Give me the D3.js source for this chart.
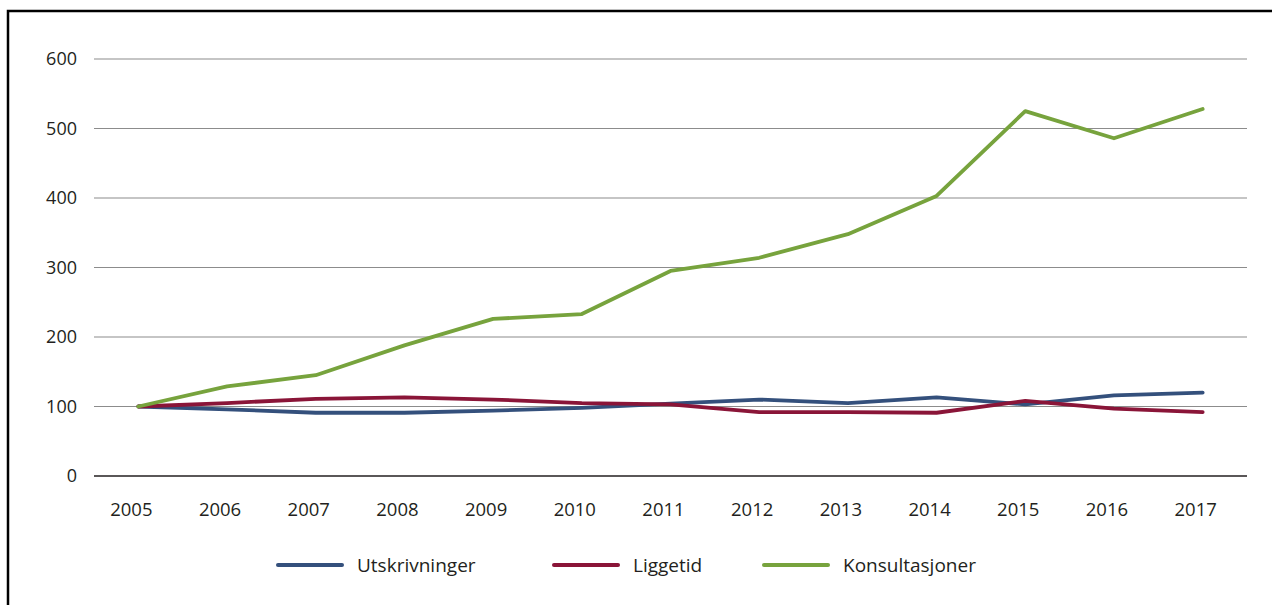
<!DOCTYPE html>
<html>
<head>
<meta charset="utf-8">
<script src="https://cdn.jsdelivr.net/npm/d3@7"></script>
<style>
  body { margin: 0; background: #fff; }
  svg { display: block; font-family: "Open Sans", "DejaVu Sans", sans-serif; }
</style>
</head>
<body>
<svg id="chart"></svg>
<script>
// data (index, 2005 = 100)
const years = ['2005', '2006', '2007', '2008', '2009', '2010', '2011', '2012', '2013', '2014', '2015', '2016', '2017'];
const utskrivninger = [100, 96, 91, 91, 94, 98, 104, 110, 105, 113, 103, 116, 120];
const liggetid = [100, 105, 111, 113, 110, 105, 103, 92, 92, 91, 108, 97, 92];
const konsultasjoner = [100, 129, 145, 188, 226, 233, 295, 314, 348, 403, 525, 486, 528];
const yTicks = [0, 100, 200, 300, 400, 500, 600];

const series = [
    {name: 'Utskrivninger', values: utskrivninger, color: '#34507c'},
    {name: 'Liggetid', values: liggetid, color: '#8a1538'},
    {name: 'Konsultasjoner', values: konsultasjoner, color: '#77a33d'},
];

const w = 1272, h = 605;
const svg = d3.select('#chart').attr('width', w).attr('height', h);

// frame (top + left only are visible in the original)
svg.append('path')
    .attr('d', `M8,${h} L8,11 L${w},11`)
    .attr('fill', 'none')
    .attr('stroke', '#000')
    .attr('stroke-width', 2.5);

const x = d3.scalePoint().domain(years).range([94, 1247]).padding(0.5);
const y = d3.scaleLinear().domain([0, 600]).range([476, 59]);

// gridlines
svg.append('g')
    .selectAll('line')
    .data(yTicks)
    .join('line')
        .attr('x1', 94)
        .attr('x2', 1247)
        .attr('y1', d => y(d))
        .attr('y2', d => y(d))
        .attr('stroke', d => d === 0 ? '#231f20' : '#8c8c8c')
        .attr('stroke-width', d => d === 0 ? 1.3 : 1.2);

// y labels
svg.append('g')
    .selectAll('text')
    .data(yTicks)
    .join('text')
        .attr('x', 77)
        .attr('y', d => y(d))
        .attr('dy', '0.35em')
        .attr('text-anchor', 'end')
        .attr('font-size', 18)
        .attr('fill', '#231f20')
        .text(d => d);

// x labels (sit a little left of the data points in the original)
svg.append('g')
    .selectAll('text')
    .data(years)
    .join('text')
        .attr('x', d => x(d) - 7)
        .attr('y', 510)
        .attr('dy', '0.35em')
        .attr('text-anchor', 'middle')
        .attr('font-size', 18.5)
        .attr('fill', '#231f20')
        .text(d => d);

const line = d3.line()
    .x((d, i) => x(years[i]))
    .y(d => y(d));

svg.append('g')
    .selectAll('path')
    .data(series)
    .join('path')
        .attr('d', d => line(d.values))
        .attr('fill', 'none')
        .attr('stroke', d => d.color)
        .attr('stroke-width', 3.8)
        .attr('stroke-linejoin', 'round')
        .attr('stroke-linecap', 'round');

// legend
const legendX = [277, 553, 763];
const legend = svg.append('g')
    .selectAll('g')
    .data(series)
    .join('g')
        .attr('transform', (d, i) => `translate(${legendX[i]},565)`);

legend.append('line')
    .attr('x1', 1)
    .attr('x2', 65)
    .attr('stroke', d => d.color)
    .attr('stroke-width', 4)
    .attr('stroke-linecap', 'round');

legend.append('text')
    .attr('x', 80)
    .attr('dy', '0.35em')
    .attr('font-size', 19)
    .attr('fill', '#231f20')
    .text(d => d.name);
</script>
</body>
</html>
